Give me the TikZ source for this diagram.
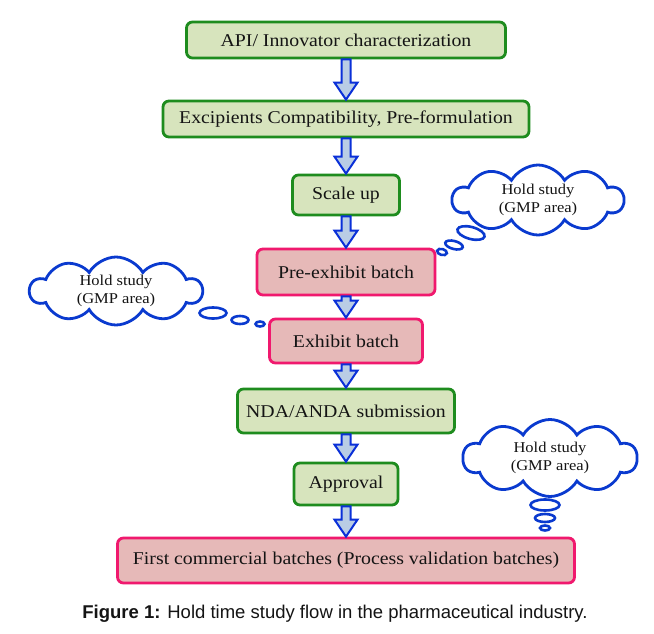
\documentclass[tikz,border=0pt]{standalone}
\usepackage{fontspec}
\setmainfont{Liberation Serif}[FakeStretch=1.1]
\newfontfamily\capfont{Liberation Sans}
\usetikzlibrary{shapes.symbols,shapes.geometric,calc}
\definecolor{gfill}{HTML}{D7E4BD}
\definecolor{gline}{HTML}{1E8C1E}
\definecolor{pfill}{HTML}{E6B9B8}
\definecolor{pline}{HTML}{F0196E}
\definecolor{aline}{HTML}{0A30D8}
\definecolor{afill}{HTML}{B9CDE5}
\definecolor{cline}{HTML}{0A3ACF}
\definecolor{txt}{HTML}{141414}
\tikzset{
  box/.style={rectangle, rounded corners=6pt, line width=2.8pt, inner sep=0pt, text=txt,
    font=\fontsize{18}{21}\selectfont},
  greenbox/.style={box, draw=gline, fill=gfill},
  pinkbox/.style={box, draw=pline, fill=pfill},
  flowarr/.style={draw=aline, fill=afill, line width=2pt, line join=miter},
  thought/.style={cloud, cloud puffs=10, cloud puff arc=120, aspect=2.4, draw=cline, fill=white,
    line width=2.8pt, inner sep=0pt, align=center, text=txt, font=\fontsize{15}{17.5}\selectfont},
  bubble/.style={ellipse, draw=cline, fill=white, line width=2.6pt, inner sep=0pt},
}
\newcommand\flowarrow[2]{%
  \filldraw[flowarr] ($(#1.south)+(-4.5pt,0pt)$) -- ($(#2.north)+(-4.5pt,17pt)$)
    -- ($(#2.north)+(-11.5pt,17pt)$) -- (#2.north) -- ($(#2.north)+(11.5pt,17pt)$)
    -- ($(#2.north)+(4.5pt,17pt)$) -- ($(#1.south)+(4.5pt,0pt)$) -- cycle;}
\begin{document}
\begin{tikzpicture}[x=1pt,y=-1pt]
\useasboundingbox (0,0) rectangle (654,634);
\fill[white] (0,0) rectangle (654,634);
% boxes
\node[greenbox, minimum width=319pt, minimum height=36pt] (api) at (346,40) {API/ Innovator characterization};
\node[greenbox, minimum width=366pt, minimum height=36pt] (exc) at (346,119) {Excipients Compatibility, Pre-formulation};
\node[greenbox, minimum width=107pt, minimum height=40pt] (scale) at (346,195) {Scale up};
\node[pinkbox, minimum width=178pt, minimum height=46pt] (pre) at (346,272) {Pre-exhibit batch};
\node[pinkbox, minimum width=153pt, minimum height=44pt] (exh) at (346,341) {Exhibit batch};
\node[greenbox, minimum width=217pt, minimum height=44pt] (nda) at (346,411) {NDA/ANDA submission};
\node[greenbox, minimum width=104pt, minimum height=42pt] (app) at (346,484) {Approval};
\node[pinkbox, minimum width=457pt, minimum height=45pt] (first) at (346,560.5) {First commercial batches (Process validation batches)};
% arrows
\flowarrow{api}{exc}
\flowarrow{exc}{scale}
\flowarrow{scale}{pre}
\flowarrow{pre}{exh}
\flowarrow{exh}{nda}
\flowarrow{nda}{app}
\flowarrow{app}{first}
% clouds
\node[thought, minimum width=171pt, minimum height=70pt] (c1) at (538,200) {Hold study\\(GMP area)};
\node[bubble, minimum width=28pt, minimum height=12pt, rotate=-15] (c1a) at (471,233) {};
\node[bubble, minimum width=18pt, minimum height=8pt, rotate=-15] (c1b) at (454,245) {};
\node[bubble, minimum width=10pt, minimum height=6pt, rotate=-15] (c1c) at (442,252) {};
\node[thought, minimum width=172pt, minimum height=68pt] (c2) at (116,291) {Hold study\\(GMP area)};
\node[bubble, minimum width=27pt, minimum height=11pt] (c2a) at (213,313) {};
\node[bubble, minimum width=17pt, minimum height=8pt] (c2b) at (240,320) {};
\node[bubble, minimum width=9pt, minimum height=5pt] (c2c) at (260,324) {};
\node[thought, minimum width=174pt, minimum height=77pt] (c3) at (550,458) {Hold study\\(GMP area)};
\node[bubble, minimum width=29pt, minimum height=11pt] (c3a) at (545,505) {};
\node[bubble, minimum width=20pt, minimum height=8pt] (c3b) at (545,518) {};
\node[bubble, minimum width=10pt, minimum height=5pt] (c3c) at (545,528) {};
% caption
\node[font=\capfont\fontsize{18.5}{21}\selectfont, text=txt] (cap) at (335,614) {\textbf{Figure 1:} Hold time study flow in the pharmaceutical industry.};
\end{tikzpicture}
\end{document}
